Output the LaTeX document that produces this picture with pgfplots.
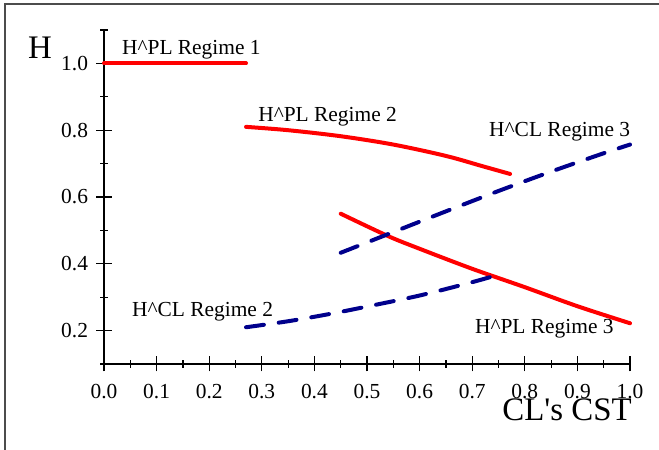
\documentclass[border=0pt]{standalone}
\usepackage{fontspec}
\setmainfont{Liberation Serif}
\newfontfamily\rawserif{Liberation Serif}
\usepackage{pgfplots}
\pgfplotsset{compat=1.18}
\definecolor{navyline}{RGB}{0,0,140}
\newcommand{\annfont}{\fontsize{21.5}{24}\selectfont}
\begin{document}
\begin{tikzpicture}
\useasboundingbox (0,0) rectangle (659bp,450bp);
\draw[line width=1.5bp, black!70] (5bp,0) -- (5bp,446bp) -- (659bp,446bp);
\begin{axis}[
  at={(104bp,86bp)}, anchor=south west,
  scale only axis, width=526bp, height=334bp,
  xmin=0, xmax=1, ymin=0.1, ymax=1.1,
  axis x line=bottom, axis y line=left,
  axis line style={line width=1.2bp, -},
  xtick={0,0.1,0.2,0.3,0.4,0.5,0.6,0.7,0.8,0.9,1.0},
  minor xtick={0.05,0.15,0.25,0.35,0.45,0.55,0.65,0.75,0.85,0.95},
  ytick={0.2,0.4,0.6,0.8,1.0},
  minor ytick={0.1,0.3,0.5,0.7,0.9,1.1},
  tick align=center,
  major tick length=15bp, minor tick length=8bp,
  every tick/.style={line width=1.2bp, black},
  /pgf/number format/assume math mode=true,
  /pgf/number format/.cd, fixed, fixed zerofill, precision=1, /pgfplots/.cd,
  ticklabel style={font=\annfont},
  xticklabel style={yshift=-9bp},
  yticklabel style={xshift=-5bp},
  clip=false,
]
% H^PL regime 1
\addplot[red, line width=4bp, line cap=round] coordinates {(0,1.0) (0.27,1.0)};
% H^PL regime 2
\addplot[red, line width=4bp, line cap=round, smooth] coordinates {
  (0.27,0.81) (0.35,0.80) (0.45,0.782) (0.55,0.757) (0.65,0.723) (0.72,0.692) (0.772,0.669)};
% H^PL regime 3
\addplot[red, line width=4bp, line cap=round, smooth] coordinates {
  (0.45,0.55) (0.54,0.483) (0.6,0.445) (0.7,0.385) (0.8,0.33) (0.9,0.273) (1.0,0.222)};
% H^CL regime 2
\addplot[navyline, line width=4bp, line cap=round, smooth, dash pattern=on 18bp off 15bp] coordinates {
  (0.27,0.21) (0.35,0.228) (0.43,0.25) (0.5,0.272) (0.6,0.305) (0.7,0.345) (0.76,0.372)};
% H^CL regime 3
\addplot[navyline, line width=4bp, line cap=round, smooth, dash pattern=on 18bp off 15bp] coordinates {
  (0.45,0.433) (0.55,0.495) (0.65,0.557) (0.75,0.618) (0.85,0.676) (0.95,0.731) (1.0,0.757)};
\node[anchor=base west, font=\annfont, inner sep=0] at (axis cs:0.034,1.028) {H\textasciicircum PL Regime 1};
\node[anchor=base west, font=\annfont, inner sep=0] at (axis cs:0.293,0.825) {H\textasciicircum PL Regime 2};
\node[anchor=base west, font=\annfont, inner sep=0] at (axis cs:0.732,0.780) {H\textasciicircum CL Regime 3};
\node[anchor=base west, font=\annfont, inner sep=0] at (axis cs:0.053,0.241) {H\textasciicircum CL Regime 2};
\node[anchor=base west, font=\annfont, inner sep=0] at (axis cs:0.705,0.190) {H\textasciicircum PL Regime 3};
\end{axis}
\node[anchor=base, inner sep=0, font=\fontsize{33}{36}\rawserif] at (567bp,30bp) {CL's CST};
\node[anchor=base, inner sep=0, font=\fontsize{33}{36}\selectfont] at (40bp,391bp) {H};
\end{tikzpicture}
\end{document}
